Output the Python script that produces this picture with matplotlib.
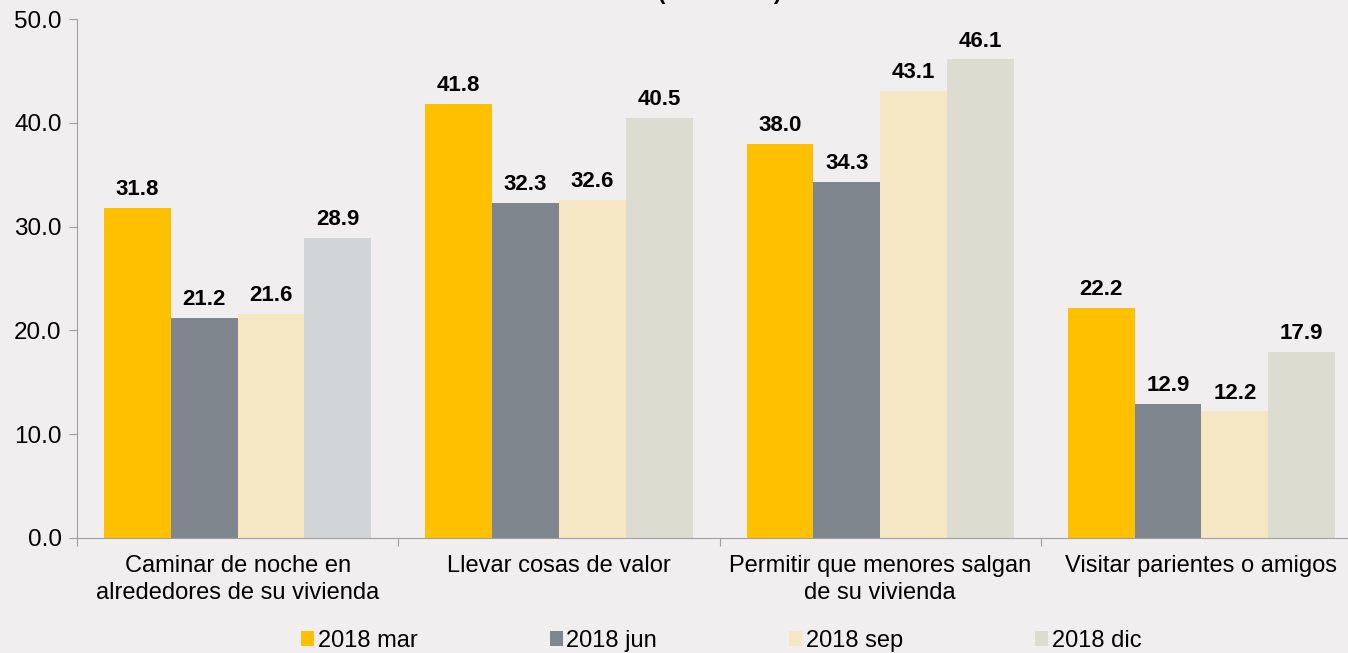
import numpy as np
import matplotlib
matplotlib.use('Agg')
import matplotlib.pyplot as plt
from matplotlib.patches import Patch

plt.rcParams['font.family'] = ['Liberation Sans', 'DejaVu Sans']

categories = ['Caminar de noche en\nalrededores de su vivienda',
              'Llevar cosas de valor',
              'Permitir que menores salgan\nde su vivienda',
              'Visitar parientes o amigos']
series = ['2018 mar', '2018 jun', '2018 sep', '2018 dic']
mar = [31.8, 41.8, 38.0, 22.2]
jun = [21.2, 32.3, 34.3, 12.9]
sep = [21.6, 32.6, 43.1, 12.2]
dic = [28.9, 40.5, 46.1, 17.9]

values = [mar, jun, sep, dic]
colors = ['#FFC000', '#7F868E', '#F5E6C4', '#DCDDD0']
# first 'dic' bar is a slightly bluer grey in the original
dic_colors = ['#D2D5D8', '#DCDDD0', '#DCDDD0', '#DCDDD0']
bg = '#F0EEEF'

fig = plt.figure(figsize=(13.48, 6.53), dpi=100, facecolor=bg)
ax = fig.add_axes([77 / 1348, 115 / 653, 1 - 77 / 1348, 519 / 653])
ax.set_facecolor(bg)

x = np.arange(len(categories))
w = 0.208
for i, vals in enumerate(values):
    pos = x + (i - 1.5) * w
    c = dic_colors if i == 3 else colors[i]
    ax.bar(pos, vals, width=w, color=c)
    for p, v in zip(pos, vals):
        ax.text(p, v + 0.75, f'{v:.1f}', ha='center', va='bottom',
                fontsize=16, fontweight='bold', color='black')

ax.set_ylim(0, 50)
ax.set_xlim(-0.5, 3.456)
ax.set_yticks(np.arange(0, 51, 10))
ax.set_yticklabels([f'{t:.1f}' for t in np.arange(0, 51, 10)], fontsize=17.5)
ax.set_xticks([-0.5, 0.5, 1.5, 2.5])
ax.set_xticklabels([])
ax.set_xticks(x, minor=True)
ax.set_xticklabels(categories, minor=True, fontsize=17, linespacing=1.3)
ax.tick_params(axis='x', which='minor', length=0, pad=12)
ax.tick_params(axis='x', which='major', length=6, color='#A0A0A0', direction='out')
ax.tick_params(axis='y', length=6, color='#A0A0A0', pad=5)
for s in ['top', 'right']:
    ax.spines[s].set_visible(False)
ax.spines['left'].set_color('#A0A0A0')
ax.spines['bottom'].set_color('#A0A0A0')

handles = [Patch(facecolor=c, label=s) for c, s in zip(colors, series)]
fig.legend(handles=handles, loc='center', bbox_to_anchor=(0.535, 12 / 653), ncol=4,
           frameon=False, fontsize=17, handlelength=0.55, handleheight=0.6,
           handletextpad=0.15, columnspacing=5.6)

fig.text(720 / 1348, 1.0 + 1 / 653, '(Por ciento)', ha='center', va='baseline',
         fontsize=16, fontweight='bold')

fig.savefig('out.png', dpi=100, facecolor=bg)
